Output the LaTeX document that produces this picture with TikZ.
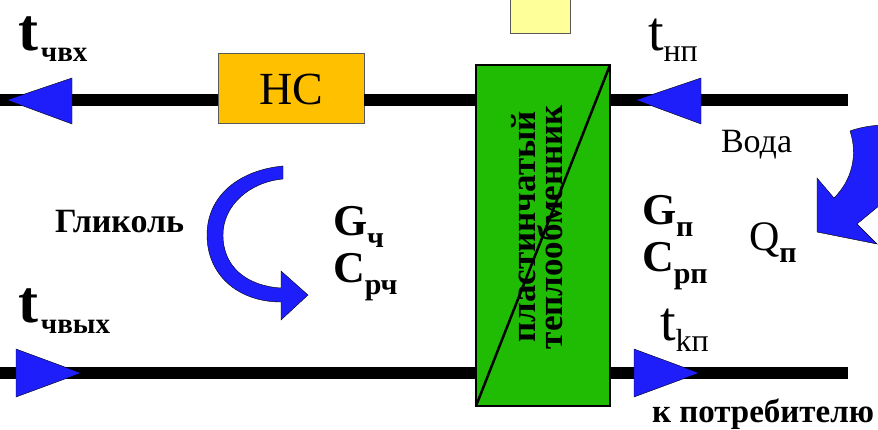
\documentclass[tikz,border=0pt]{standalone}
\usepackage{fontspec}
\setmainfont{Liberation Serif}
\tikzset{
  pipe/.style={line width=12pt,black},
  tri/.style={fill=arrowblue,draw=black,line width=.4pt},
  curved/.style={fill=arrowblue,draw=black,line width=.4pt},
  lab/.style={anchor=base west,inner sep=0pt,outer sep=0pt},
  boxy/.style={draw=black!65,line width=1pt,inner sep=0pt,outer sep=0pt}
}
\definecolor{arrowblue}{RGB}{30,30,250}
\definecolor{hcfill}{RGB}{255,192,0}
\definecolor{hxfill}{RGB}{32,188,4}
\definecolor{yfill}{RGB}{255,255,153}
\newcommand{\bigt}[1]{{\fontsize{60}{60}\selectfont\bfseries t}\kern2pt{\fontsize{29}{29}\selectfont\raisebox{-11pt}{\bfseries #1}}}
\newcommand{\lgt}[1]{{\fontsize{56}{56}\selectfont t}{\fontsize{32}{32}\selectfont\raisebox{-11pt}{#1}}}
\newcommand{\bsym}[2]{{\fontsize{44}{44}\selectfont\bfseries #1}{\fontsize{30}{30}\selectfont\raisebox{-12pt}{\bfseries #2}}}
\begin{document}
\begin{tikzpicture}[x=1pt,y=-1pt]
\useasboundingbox (0,0) rectangle (878,430);
\clip (0,0) rectangle (878,430);
\coordinate (tl) at (0,100);
\coordinate (tr) at (848,100);
\coordinate (bl) at (0,373);
\coordinate (br) at (848,373);
\node[boxy,fill=hcfill,minimum width=146pt,minimum height=70pt,font=\fontsize{46}{46}\selectfont] (hc) at (291,89) {\raisebox{-2pt}{НС}};
\node[boxy,draw=black,line width=2pt,fill=hxfill,minimum width=134pt,minimum height=341pt] (hx) at (543,235.5) {};
\node[boxy,fill=yfill,minimum width=60pt,minimum height=39pt] (ybox) at (540,14.5) {};
% pipes
\draw[pipe] (tl) -- (hc.west |- tl);
\draw[pipe] (hc.east |- tl) -- (hx.west |- tl);
\draw[pipe] (hx.east |- tr) -- (tr);
\draw[pipe] (bl) -- (hx.west |- bl);
\draw[pipe] (hx.east |- br) -- (br);
\draw[line width=2.5pt,black] (hx.south west) -- (hx.north east);
\node[rotate=90,align=center,font=\fontsize{35}{25}\bfseries] (hxt) at (537,227) {пластинчатый\\теплообменник};
% triangles
\draw[tri] (7,100) -- (72,78) -- (72,124) -- cycle;
\draw[tri] (636,100) -- (701,78) -- (701,124) -- cycle;
\draw[tri] (16,349) -- (81,373) -- (16,397) -- cycle;
\draw[tri] (634,349) -- (699,373) -- (634,397) -- cycle;
% curved arrows
\draw[curved] (283,166) .. controls (240,170) and (207,195) .. (207,235)
  .. controls (207,275) and (238,302) .. (281,302)
  -- (281,320) -- (308,295) -- (281,271) -- (281,288)
  .. controls (248,286) and (223,268) .. (223,235)
  .. controls (223,205) and (250,182) .. (283,179) -- cycle;
\draw[curved] (850,131) .. controls (858,155) and (852,180) .. (834,198)
  -- (817,178) -- (817,232) -- (877,244) -- (857,224)
  -- (880,205) -- (880,125) .. controls (868,126) and (858,128) .. (850,131) -- cycle;
% labels
\node[lab] (l1) at (19,51) {\bigt{чвх}};
\node[lab] (l2) at (19,323) {\bigt{чвых}};
\node[lab] (l3) at (648,51) {\lgt{нп}};
\node[lab] (l4) at (660,340) {\lgt{kп}};
\node[lab,font=\fontsize{34}{34}\bfseries] (gl) at (55,233) {Гликоль};
\node[lab,font=\fontsize{34}{34}\selectfont] (vo) at (721,153) {Вода};
\node[lab] (g1) at (333,236) {\bsym{G}{ч}};
\node[lab] (c1) at (333,283) {\bsym{C}{рч}};
\node[lab] (g2) at (642,225) {\bsym{G}{п}};
\node[lab] (c2) at (642,272) {\bsym{C}{рп}};
\node[lab] (q) at (749,251) {{\fontsize{42}{42}\selectfont Q}{\fontsize{30}{30}\selectfont\raisebox{-12pt}{\bfseries п}}};
\node[lab,font=\fontsize{33}{33}\bfseries] (kp) at (652,422) {к потребителю};
\end{tikzpicture}
\end{document}
